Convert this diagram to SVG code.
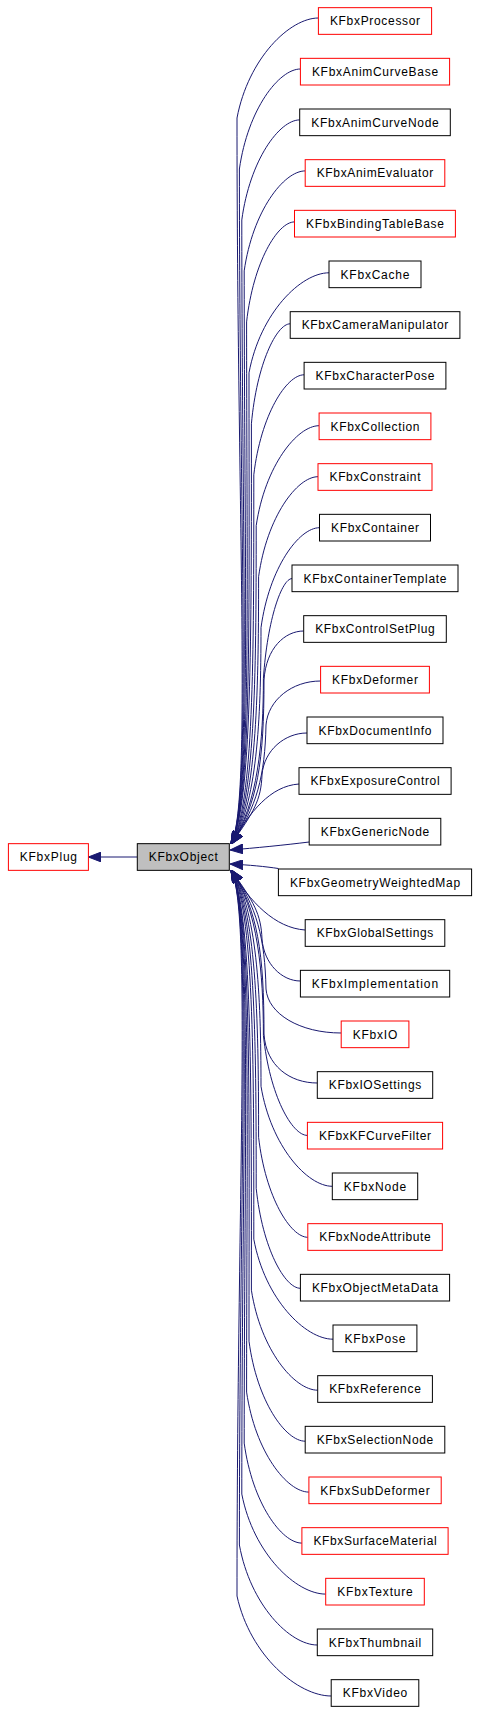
<svg xmlns="http://www.w3.org/2000/svg" width="479" height="1714" viewBox="0 0 479 1714">
<style>
rect{fill:#fff;stroke:#000;stroke-width:1}
.red rect{stroke:#ff0000}
.cur rect{fill:#bfbfbf}
text{font-family:"Liberation Sans",Arial,Helvetica,sans-serif;font-size:12px;fill:#000;text-anchor:middle}
.edges path{fill:none;stroke:#191970;stroke-width:1;marker-end:url(#ah)}
</style>
<defs>
<marker id="ah" markerUnits="userSpaceOnUse" viewBox="0 0 13 10" refX="13" refY="5" markerWidth="13" markerHeight="10" orient="auto">
<path d="M0,0 L13,5 L0,10 Z" fill="#191970" stroke="#191970" stroke-width="1"/>
</marker>
</defs>
<rect x="0" y="0" width="479" height="1714" style="fill:#fff;stroke:none"/>
<g class="edges">
<path d="M137,857 L88.3,857"/>
<g id="upper">
<path d="M318.4,18 C289.9,18 248.4,58 237,118 C237,521 252,805 231,844"/>
<path d="M300.4,69 C279.1,69 247.9,109 239.4,169 C239.4,541 252,805 231,844"/>
<path d="M299.7,119.9 C279.4,119.9 249.9,159.9 241.8,219.9 C241.8,561 252,805 231,844"/>
<path d="M305.2,170.9 C283.9,170.9 252.7,210.9 244.2,270.9 C244.2,581 252,805 231,844"/>
<path d="M294.5,221.9 C277.7,221.9 253.3,261.9 246.6,321.9 C246.6,601 252,805 231,844"/>
<path d="M329,272.8 C301,272.8 260.2,312.8 249,372.8 C249,621 252,805 231,844"/>
<path d="M290.2,323.8 C276.6,323.8 256.8,363.8 251.4,423.8 C251.4,641 252,805 231,844"/>
<path d="M304.1,374.8 C286.5,374.8 260.8,414.8 253.8,474.8 C253.8,661 254,805 231,844"/>
<path d="M319.1,425.7 C297.1,425.7 265,465.7 256.2,525.7 C256.2,681 255,805 231,844"/>
<path d="M318,476.7 C297.2,476.7 266.9,516.7 258.6,576.7 C258.6,701 256,805 231,844"/>
<path d="M319.5,527.7 C299,527.7 269.2,567.7 261,627.7 C261,721 257,805 231,844"/>
<path d="M292,578.6 C282,578.6 267.4,618.6 263.4,678.6 C263.4,741 258,805 231,844"/>
<path d="M303.7,631 C285,631 266,648 264,680 C264,760 258,805 231,844"/>
<path d="M320.6,681 C292,681 268,700 266,725 C265,775 257,808 231,844"/>
<path d="M307,733 C285,733 264,750 262,775 C261,800 254,812 231,844"/>
<path d="M299,784 C270,786 250,812 231,844"/>
</g>
<path d="M309.2,842 C285,845 255,848 230,850"/>
<path d="M278.4,868.5 C265,866.5 250,865 230,864"/>
<g id="lower" transform="matrix(1 0 0 -1 0 1714)">
<path d="M331.2,18 C298.2,18 250.2,58 237,118 C237,521 252,805 231,844"/>
<path d="M317.3,69 C290,69 250.3,109 239.4,169 C239.4,541 252,805 231,844"/>
<path d="M325.7,119.9 C296.3,119.9 253.5,159.9 241.8,219.9 C241.8,561 252,805 231,844"/>
<path d="M301.9,170.9 C281.7,170.9 252.3,210.9 244.2,270.9 C244.2,581 252,805 231,844"/>
<path d="M308.9,221.9 C287.1,221.9 255.3,261.9 246.6,321.9 C246.6,601 252,805 231,844"/>
<path d="M305.2,272.8 C285.5,272.8 256.9,312.8 249,372.8 C249,621 252,805 231,844"/>
<path d="M317.7,323.8 C294.5,323.8 260.7,363.8 251.4,423.8 C251.4,641 252,805 231,844"/>
<path d="M333,374.8 C305.3,374.8 264.9,414.8 253.8,474.8 C253.8,661 254,805 231,844"/>
<path d="M300.4,425.7 C284.9,425.7 262.4,465.7 256.2,525.7 C256.2,681 255,805 231,844"/>
<path d="M307.8,476.7 C290.6,476.7 265.5,516.7 258.6,576.7 C258.6,701 256,805 231,844"/>
<path d="M332.3,527.7 C307.3,527.7 271,567.7 261,627.7 C261,721 257,805 231,844"/>
<path d="M307.4,578.6 C292,578.6 269.6,618.6 263.4,678.6 C263.4,741 258,805 231,844"/>
<path d="M317.3,631 C290,631 266,648 264,680 C264,760 258,805 231,844"/>
<path d="M341.2,681 C300,681 268,700 266,725 C265,775 257,808 231,844"/>
<path d="M300.4,733 C282,733 264,750 262,775 C261,800 254,812 231,844"/>
<path d="M305.2,784 C275,786 250,812 231,844"/>
</g>
</g>
<g id="n_KFbxPlug" class="red"><rect x="8.4" y="843.67" width="80" height="26.67"/><text x="48.4" y="861.2" textLength="57.2" lengthAdjust="spacing">KFbxPlug</text></g>
<g id="n_KFbxObject" class="cur"><rect x="137.3" y="843.67" width="92" height="26.67"/><text x="183.3" y="861.2" textLength="69" lengthAdjust="spacing">KFbxObject</text></g>
<g id="n_KFbxProcessor" class="red"><rect x="318.4" y="7.67" width="113.2" height="26.67"/><text x="375" y="25.2" textLength="90.2" lengthAdjust="spacing">KFbxProcessor</text></g>
<g id="n_KFbxAnimCurveBase" class="red"><rect x="300.4" y="58.33" width="149.2" height="26.67"/><text x="375" y="75.87" textLength="126.2" lengthAdjust="spacing">KFbxAnimCurveBase</text></g>
<g id="n_KFbxAnimCurveNode"><rect x="299.7" y="109" width="150.6" height="26.67"/><text x="375" y="126.53" textLength="127.6" lengthAdjust="spacing">KFbxAnimCurveNode</text></g>
<g id="n_KFbxAnimEvaluator" class="red"><rect x="305.2" y="159.67" width="139.6" height="26.67"/><text x="375" y="177.2" textLength="116.6" lengthAdjust="spacing">KFbxAnimEvaluator</text></g>
<g id="n_KFbxBindingTableBase" class="red"><rect x="294.5" y="210.33" width="160.9" height="26.67"/><text x="375" y="227.87" textLength="137.9" lengthAdjust="spacing">KFbxBindingTableBase</text></g>
<g id="n_KFbxCache"><rect x="329" y="261" width="92" height="26.67"/><text x="375" y="278.53" textLength="69" lengthAdjust="spacing">KFbxCache</text></g>
<g id="n_KFbxCameraManipulator"><rect x="290.2" y="311.67" width="169.7" height="26.67"/><text x="375" y="329.2" textLength="146.7" lengthAdjust="spacing">KFbxCameraManipulator</text></g>
<g id="n_KFbxCharacterPose"><rect x="304.1" y="362.33" width="141.8" height="26.67"/><text x="375" y="379.87" textLength="118.8" lengthAdjust="spacing">KFbxCharacterPose</text></g>
<g id="n_KFbxCollection" class="red"><rect x="319.1" y="413" width="111.8" height="26.67"/><text x="375" y="430.53" textLength="88.8" lengthAdjust="spacing">KFbxCollection</text></g>
<g id="n_KFbxConstraint" class="red"><rect x="318" y="463.67" width="114" height="26.67"/><text x="375" y="481.2" textLength="91" lengthAdjust="spacing">KFbxConstraint</text></g>
<g id="n_KFbxContainer"><rect x="319.5" y="514.33" width="111" height="26.67"/><text x="375" y="531.87" textLength="88" lengthAdjust="spacing">KFbxContainer</text></g>
<g id="n_KFbxContainerTemplate"><rect x="292" y="565" width="166" height="26.67"/><text x="375" y="582.53" textLength="143" lengthAdjust="spacing">KFbxContainerTemplate</text></g>
<g id="n_KFbxControlSetPlug"><rect x="303.7" y="615.67" width="142.6" height="26.67"/><text x="375" y="633.2" textLength="119.6" lengthAdjust="spacing">KFbxControlSetPlug</text></g>
<g id="n_KFbxDeformer" class="red"><rect x="320.6" y="666.33" width="108.8" height="26.67"/><text x="375" y="683.87" textLength="85.8" lengthAdjust="spacing">KFbxDeformer</text></g>
<g id="n_KFbxDocumentInfo"><rect x="307" y="717" width="136" height="26.67"/><text x="375" y="734.53" textLength="113" lengthAdjust="spacing">KFbxDocumentInfo</text></g>
<g id="n_KFbxExposureControl"><rect x="299" y="767.67" width="152.1" height="26.67"/><text x="375" y="785.2" textLength="129.1" lengthAdjust="spacing">KFbxExposureControl</text></g>
<g id="n_KFbxGenericNode"><rect x="309.2" y="818.33" width="131.6" height="26.67"/><text x="375" y="835.87" textLength="108.6" lengthAdjust="spacing">KFbxGenericNode</text></g>
<g id="n_KFbxGeometryWeightedMap"><rect x="278.4" y="869" width="193.2" height="26.67"/><text x="375" y="886.53" textLength="170.2" lengthAdjust="spacing">KFbxGeometryWeightedMap</text></g>
<g id="n_KFbxGlobalSettings"><rect x="305.2" y="919.67" width="139.6" height="26.67"/><text x="375" y="937.2" textLength="116.6" lengthAdjust="spacing">KFbxGlobalSettings</text></g>
<g id="n_KFbxImplementation"><rect x="300.4" y="970.33" width="149.3" height="26.67"/><text x="375" y="987.87" textLength="126.3" lengthAdjust="spacing">KFbxImplementation</text></g>
<g id="n_KFbxIO" class="red"><rect x="341.2" y="1021" width="67.7" height="26.67"/><text x="375" y="1038.53" textLength="44.7" lengthAdjust="spacing">KFbxIO</text></g>
<g id="n_KFbxIOSettings"><rect x="317.3" y="1071.67" width="115.4" height="26.67"/><text x="375" y="1089.2" textLength="92.4" lengthAdjust="spacing">KFbxIOSettings</text></g>
<g id="n_KFbxKFCurveFilter" class="red"><rect x="307.4" y="1122.33" width="135.2" height="26.67"/><text x="375" y="1139.87" textLength="112.2" lengthAdjust="spacing">KFbxKFCurveFilter</text></g>
<g id="n_KFbxNode"><rect x="332.3" y="1173" width="85.4" height="26.67"/><text x="375" y="1190.53" textLength="62.4" lengthAdjust="spacing">KFbxNode</text></g>
<g id="n_KFbxNodeAttribute" class="red"><rect x="307.8" y="1223.67" width="134.5" height="26.67"/><text x="375" y="1241.2" textLength="111.5" lengthAdjust="spacing">KFbxNodeAttribute</text></g>
<g id="n_KFbxObjectMetaData"><rect x="300.4" y="1274.33" width="149.2" height="26.67"/><text x="375" y="1291.87" textLength="126.2" lengthAdjust="spacing">KFbxObjectMetaData</text></g>
<g id="n_KFbxPose"><rect x="333" y="1325" width="83.9" height="26.67"/><text x="375" y="1342.53" textLength="60.9" lengthAdjust="spacing">KFbxPose</text></g>
<g id="n_KFbxReference"><rect x="317.7" y="1375.67" width="114.7" height="26.67"/><text x="375" y="1393.2" textLength="91.7" lengthAdjust="spacing">KFbxReference</text></g>
<g id="n_KFbxSelectionNode"><rect x="305.2" y="1426.33" width="139.6" height="26.67"/><text x="375" y="1443.87" textLength="116.6" lengthAdjust="spacing">KFbxSelectionNode</text></g>
<g id="n_KFbxSubDeformer" class="red"><rect x="308.9" y="1477" width="132.3" height="26.67"/><text x="375" y="1494.53" textLength="109.3" lengthAdjust="spacing">KFbxSubDeformer</text></g>
<g id="n_KFbxSurfaceMaterial" class="red"><rect x="301.9" y="1527.67" width="146.2" height="26.67"/><text x="375" y="1545.2" textLength="123.2" lengthAdjust="spacing">KFbxSurfaceMaterial</text></g>
<g id="n_KFbxTexture" class="red"><rect x="325.7" y="1578.33" width="98.6" height="26.67"/><text x="375" y="1595.87" textLength="75.6" lengthAdjust="spacing">KFbxTexture</text></g>
<g id="n_KFbxThumbnail"><rect x="317.3" y="1629" width="115.4" height="26.67"/><text x="375" y="1646.53" textLength="92.4" lengthAdjust="spacing">KFbxThumbnail</text></g>
<g id="n_KFbxVideo"><rect x="331.2" y="1679.67" width="87.6" height="26.67"/><text x="375" y="1697.2" textLength="64.6" lengthAdjust="spacing">KFbxVideo</text></g>
</svg>
